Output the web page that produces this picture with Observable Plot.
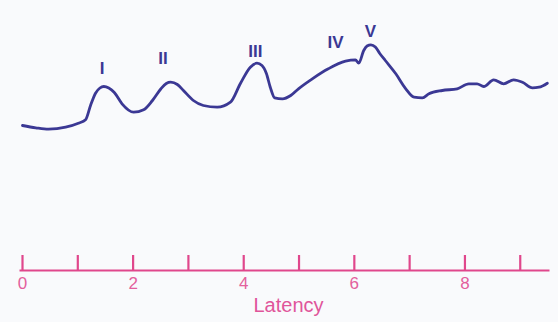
<!DOCTYPE html>
<html>
<head>
<meta charset="utf-8">
<script src="https://cdn.jsdelivr.net/npm/d3@7"></script>
<script src="https://cdn.jsdelivr.net/npm/@observablehq/plot@0.6"></script>
<style>
  html, body { margin: 0; padding: 0; background: #f9fafc; }
  #chart svg { display: block; }
</style>
</head>
<body>
<div id="chart"></div>
<script>
// Waveform samples (latency, amplitude in arbitrary units)
const latency = [0.0, 0.24, 0.47, 0.78, 1.01, 1.14, 1.23, 1.32, 1.40, 1.47, 1.56, 1.66, 1.80, 2.01, 2.19, 2.35, 2.50, 2.60, 2.68, 2.80, 2.91, 3.09, 3.27, 3.52, 3.76, 3.94, 4.12, 4.24, 4.33, 4.41, 4.48, 4.56, 4.70, 4.85, 4.99, 5.24, 5.53, 5.84, 6.02, 6.08, 6.17, 6.23, 6.30, 6.38, 6.46, 6.56, 6.75, 6.93, 7.08, 7.23, 7.35, 7.59, 7.86, 8.07, 8.22, 8.34, 8.52, 8.70, 8.88, 9.04, 9.22, 9.34, 9.49];
const amplitude = [0.30, 0.07, -0.07, 0.13, 0.53, 0.87, 2.30, 3.53, 4.05, 4.20, 4.05, 3.60, 2.47, 1.63, 1.87, 2.80, 3.95, 4.50, 4.63, 4.40, 3.80, 2.80, 2.30, 2.13, 2.63, 4.50, 6.13, 6.53, 6.30, 5.50, 4.13, 3.07, 2.97, 3.30, 3.97, 4.97, 5.97, 6.73, 6.87, 6.53, 7.80, 8.25, 8.37, 8.15, 7.50, 6.80, 5.47, 3.97, 3.13, 3.07, 3.47, 3.80, 3.97, 4.47, 4.47, 4.20, 4.87, 4.47, 4.87, 4.63, 4.07, 4.13, 4.53];

// Peak labels
const peakNames = ["I", "II", "III", "IV", "V"];
const peakLatency = [1.44, 2.54, 4.21, 5.66, 6.29];
const peakAmplitude = [6.0, 7.0, 7.7, 8.6, 9.72];

// Axis ticks
const tickValues = [0, 1, 2, 3, 4, 5, 6, 7, 8, 9];
const tickLabels = [0, 2, 4, 6, 8];
const axisTitle = "Latency";

const wave = latency.map((x, i) => ({x, y: amplitude[i]}));
const peaks = peakNames.map((name, i) => ({name, x: peakLatency[i], y: peakAmplitude[i]}));

const navy = "#3b3894";
const pink = "#e0478c";

const chart = Plot.plot({
  width: 558,
  height: 322,
  marginTop: 0,
  marginLeft: 20,
  marginRight: 10,
  marginBottom: 52,
  style: {background: "transparent", fontFamily: "'Liberation Sans', Arial, sans-serif"},
  x: {domain: [0, 9.5], range: [22, 547.4]},
  y: {domain: [0, 10], range: [128, 28], axis: null},
  marks: [
    Plot.frame({anchor: "bottom", stroke: pink, strokeWidth: 2}),
    Plot.tickX(tickValues, {x: d => d, stroke: pink, strokeWidth: 2.2, insetTop: 255}),
    Plot.axisX(tickLabels, {tickSize: 0, tickPadding: 6, fontSize: 17, fill: "#e3609c", label: null}),
    Plot.text([axisTitle], {frameAnchor: "bottom", dx: 4, dy: 41, fontSize: 20, fill: "#e0559a"}),
    Plot.line(wave, {x: "x", y: "y", stroke: navy, strokeWidth: 2.8, curve: "monotone-x"}),
    Plot.text(peaks, {x: "x", y: "y", text: "name", fontSize: 17, fontWeight: "bold", fill: navy})
  ]
});
document.getElementById("chart").appendChild(chart);
</script>
</body>
</html>
